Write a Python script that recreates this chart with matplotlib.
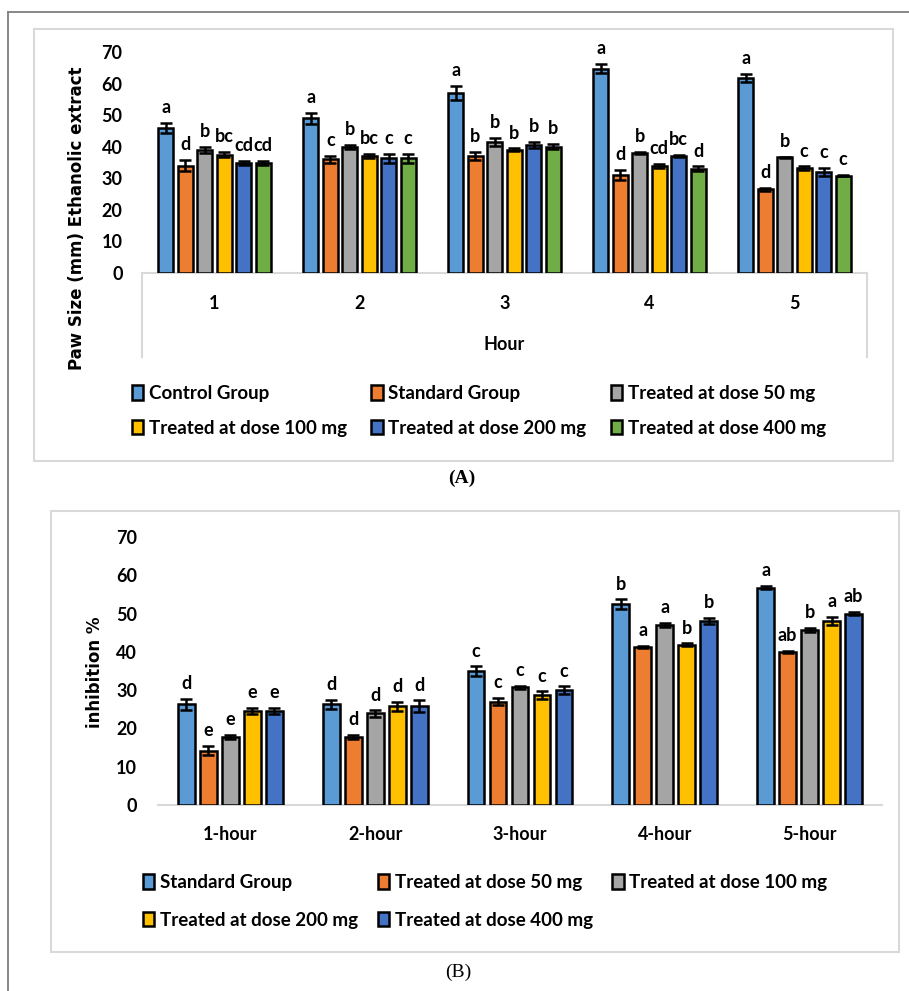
import numpy as np
import matplotlib
matplotlib.use("Agg")
import matplotlib.pyplot as plt
from matplotlib.patches import Rectangle
from matplotlib.lines import Line2D

# ---- panel A data: paw size (mm), ethanolic extract ----
hours_a = ["1", "2", "3", "4", "5"]
groups_a = ["Control Group", "Standard Group", "Treated at dose 50 mg",
            "Treated at dose 100 mg", "Treated at dose 200 mg", "Treated at dose 400 mg"]
control = [46, 49, 57, 64.7, 61.7]
standard = [34, 36, 37, 31, 26.5]
dose50 = [39, 40, 41.5, 38, 36.7]
dose100 = [37.5, 37, 39, 34, 33.2]
dose200 = [34.8, 36.3, 40.5, 37, 32]
dose400 = [34.8, 36.3, 40, 33, 30.8]
err_control = [1.5, 1.8, 2.2, 1.5, 1.3]
err_standard = [1.8, 1.0, 1.3, 1.6, 0.5]
err_dose50 = [1.0, 0.7, 1.3, 0.3, 0.2]
err_dose100 = [0.8, 0.7, 0.5, 0.6, 0.6]
err_dose200 = [0.7, 1.5, 1.0, 0.4, 1.2]
err_dose400 = [0.7, 1.5, 0.8, 0.8, 0.2]
letters_a = [["a", "a", "a", "a", "a"],
             ["d", "c", "b", "d", "d"],
             ["b", "b", "b", "b", "b"],
             ["bc", "bc", "b", "cd", "c"],
             ["cd", "c", "b", "bc", "c"],
             ["cd", "c", "b", "d", "c"]]

# ---- panel B data: inhibition % ----
hours_b = ["1-hour", "2-hour", "3-hour", "4-hour", "5-hour"]
groups_b = ["Standard Group", "Treated at dose 50 mg", "Treated at dose 100 mg",
            "Treated at dose 200 mg", "Treated at dose 400 mg"]
inh_standard = [26.3, 26.3, 35, 52.4, 56.8]
inh_dose50 = [14.2, 17.8, 27, 41.3, 40]
inh_dose100 = [17.8, 23.9, 30.7, 47, 45.7]
inh_dose200 = [24.6, 25.8, 28.7, 41.9, 48.1]
inh_dose400 = [24.6, 25.8, 30, 48.1, 50]
err_inh_standard = [1.4, 1.2, 1.2, 1.3, 0.5]
err_inh_dose50 = [1.2, 0.5, 1.0, 0.3, 0.3]
err_inh_dose100 = [0.5, 0.8, 0.5, 0.5, 0.5]
err_inh_dose200 = [0.8, 1.2, 1.0, 0.3, 1.0]
err_inh_dose400 = [0.8, 1.5, 1.0, 0.8, 0.5]
letters_b = [["d", "d", "c", "b", "a"],
             ["e", "d", "c", "a", "ab"],
             ["e", "d", "c", "a", "b"],
             ["e", "d", "c", "b", "a"],
             ["e", "d", "c", "b", "ab"]]

colors_a = ["#5B9BD5", "#ED7D31", "#A5A5A5", "#FFC000", "#4472C4", "#70AD47"]
colors_b = ["#5B9BD5", "#ED7D31", "#A5A5A5", "#FFC000", "#4472C4"]

FONT = "Lato"
W, H = 909, 991

fig = plt.figure(figsize=(W / 100, H / 100), dpi=100)


def fx(px):
    return px / W


def fy(py):
    return 1 - py / H


# outer border (left and top) and panel boxes
fig.add_artist(Line2D([fx(8), fx(8)], [fy(12), 0], color="#7f7f7f", lw=1.3))
fig.add_artist(Line2D([fx(8), 1], [fy(12), fy(12)], color="#7f7f7f", lw=1.3))
fig.add_artist(Rectangle((fx(34), fy(461)), fx(893 - 34), (461 - 29) / H,
                         fill=False, ec="#d9d9d9", lw=1.5))
fig.add_artist(Rectangle((fx(51), fy(952)), fx(899 - 51), (952 - 511) / H,
                         fill=False, ec="#d9d9d9", lw=1.5))


def draw_bars(ax, series, errs, letters, colors, step, width):
    n = len(series)
    x = np.arange(len(series[0]))
    handles = []
    for j in range(n):
        pos = x + (j - (n - 1) / 2) * step
        b = ax.bar(pos, series[j], width, color=colors[j], edgecolor="black",
                   linewidth=1.8, zorder=3)
        ax.errorbar(pos, series[j], yerr=errs[j], fmt="none", ecolor="black",
                    elinewidth=1.8, capsize=4.5, capthick=1.8, zorder=4)
        for k in range(len(pos)):
            ax.annotate(letters[j][k], (pos[k], series[j][k] + errs[j][k]),
                        xytext=(0, 7), textcoords="offset points",
                        ha="center", va="baseline", fontsize=13,
                        fontweight="bold", family=FONT)
        handles.append(b)
    return handles


def style_axis(ax, cats, ypad, xpad):
    ax.set_xlim(-0.5, len(cats) - 0.5)
    ax.set_ylim(0, 70)
    ax.set_yticks(range(0, 71, 10))
    ax.set_xticks(range(len(cats)))
    ax.set_xticklabels(cats)
    for s in ["top", "right", "left"]:
        ax.spines[s].set_visible(False)
    ax.spines["bottom"].set_color("#d9d9d9")
    ax.spines["bottom"].set_linewidth(1.5)
    ax.tick_params(axis="y", length=0, pad=ypad)
    ax.tick_params(axis="x", length=0, pad=xpad)
    for lab in ax.get_xticklabels() + ax.get_yticklabels():
        lab.set_family(FONT)
        lab.set_fontweight("bold")
        lab.set_fontsize(13)
    ax.set_facecolor("none")


# ---- panel A ----
axA = fig.add_axes([fx(142), fy(273), fx(867 - 142), (273 - 52) / H])
hA = draw_bars(axA, [control, standard, dose50, dose100, dose200, dose400],
               [err_control, err_standard, err_dose50, err_dose100, err_dose200, err_dose400],
               letters_a, colors_a, 0.134, 0.103)
style_axis(axA, hours_a, 14, 16)
tb = -(357 - 273) / (273 - 52)
for xa in (0, 1):
    axA.add_line(Line2D([xa, xa], [0, tb], transform=axA.transAxes,
                        color="#d9d9d9", lw=1.5, clip_on=False))
axA.text(0.5, -(345 - 273) / (273 - 52), "Hour", transform=axA.transAxes,
         ha="center", va="center", fontsize=13, fontweight="bold", family=FONT)
fig.text(fx(77), fy(218), "Paw Size (mm) Ethanolic extract", rotation=90,
         ha="center", va="center", fontsize=12, fontweight="bold", family="DejaVu Sans")

order_a = [0, 3, 1, 4, 2, 5]
legA = fig.legend([hA[i] for i in order_a], [groups_a[i] for i in order_a],
                  ncol=3, loc="upper left", bbox_to_anchor=(fx(132), fy(385)),
                  frameon=False, borderpad=0, borderaxespad=0,
                  handlelength=0.6, handleheight=0.8, handletextpad=0.3,
                  columnspacing=1.3, labelspacing=0.95,
                  prop={"family": FONT, "weight": "bold", "size": 13.5})
fig.text(fx(462), fy(478), "(A)", ha="center", va="center", fontsize=14,
         fontweight="bold", family="Liberation Serif")

# ---- panel B ----
axB = fig.add_axes([fx(158), fy(805), fx(882 - 158), (805 - 537) / H])
hB = draw_bars(axB, [inh_standard, inh_dose50, inh_dose100, inh_dose200, inh_dose400],
               [err_inh_standard, err_inh_dose50, err_inh_dose100, err_inh_dose200, err_inh_dose400],
               letters_b, colors_b, 0.152, 0.117)
style_axis(axB, hours_b, 15, 15)
fig.text(fx(95), fy(672), "inhibition %", rotation=90,
         ha="center", va="center", fontsize=12, fontweight="bold", family="DejaVu Sans")

order_b = [0, 3, 1, 4, 2]
legB = fig.legend([hB[i] for i in order_b], [groups_b[i] for i in order_b],
                  ncol=3, loc="upper left", bbox_to_anchor=(fx(143), fy(874)),
                  frameon=False, borderpad=0, borderaxespad=0,
                  handlelength=0.6, handleheight=0.8, handletextpad=0.3,
                  columnspacing=1.05, labelspacing=1.1,
                  prop={"family": FONT, "weight": "bold", "size": 13.5})
fig.text(fx(458), fy(972), "(B)", ha="center", va="center", fontsize=14,
         family="Liberation Serif")

fig.savefig("out.png", dpi=100)
